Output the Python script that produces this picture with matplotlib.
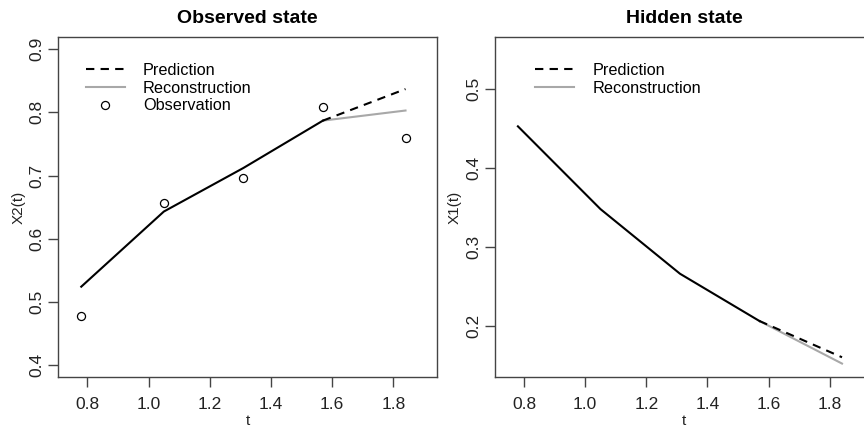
import matplotlib
matplotlib.use("Agg")
import matplotlib.pyplot as plt

plt.rcParams['font.family'] = ['Liberation Sans', 'DejaVu Sans']

t = [0.78, 1.05, 1.31, 1.57, 1.84]

# observed component X2
x2_obs = [0.478, 0.657, 0.696, 0.808, 0.760]
x2_fit = [0.524, 0.643, 0.712, 0.787]
x2_pred = 0.837
x2_rec = 0.803

# hidden component X1
x1_fit = [0.453, 0.348, 0.266, 0.206]
x1_pred = 0.160
x1_rec = 0.152

xticks = [0.8, 1.0, 1.2, 1.4, 1.6, 1.8]
xlabels = ["0.8", "1.0", "1.2", "1.4", "1.6", "1.8"]

BOX = '#444444'
GRAY = '#a8a8a8'


def style_axes(ax, yticks, ylabel, title):
	for s in ax.spines.values():
		s.set_color(BOX)
		s.set_linewidth(1.0)
	ax.set_xticks(xticks)
	ax.set_xticklabels(xlabels)
	ax.set_yticks(yticks)
	ax.set_yticklabels(["%.1f" % v for v in yticks])
	ax.tick_params(axis='both', length=7, width=1.0, color=BOX, labelsize=12.5, labelcolor='#222222')
	ax.tick_params(axis='x', pad=7)
	ax.tick_params(axis='y', pad=3)
	for lab in ax.get_yticklabels():
		lab.set_rotation(90)
		lab.set_va('center')
	ax.set_xlabel('t', fontsize=11, color='#222222')
	ax.xaxis.set_label_coords(0.5, -0.128)
	ax.xaxis.label.set_va('center')
	ax.set_ylabel(ylabel, fontsize=11, color='#222222')
	ax.yaxis.set_label_coords(-0.106, 0.5)
	ax.yaxis.label.set_va('center')
	ax.set_title(title, fontsize=14, fontweight='bold', y=1.056, va='center', pad=0)


def draw_series(ax, fit, pred, rec):
	ax.plot(t[3:], [fit[-1], rec], color=GRAY, lw=1.5, label='Reconstruction', zorder=2)
	ax.plot(t[:4], fit, color='black', lw=1.5, zorder=3)
	ax.plot(t[3:], [fit[-1], pred], color='black', lw=1.5, dashes=(4, 3), label='Prediction', zorder=3)


def add_legend(ax, names, x0):
	h, l = ax.get_legend_handles_labels()
	order = [l.index(n) for n in names]
	ax.legend([h[i] for i in order], [l[i] for i in order], frameon=False, loc='upper left',
		bbox_to_anchor=(x0, 0.925), borderaxespad=0, borderpad=0, fontsize=11.7,
		handlelength=2.4, handletextpad=1.1, labelspacing=0.17)


fig = plt.figure(figsize=(8.64, 4.28), dpi=100)
ax1 = fig.add_axes([0.0675, 0.1185, 0.4383, 0.7944])
ax2 = fig.add_axes([0.5729, 0.1185, 0.4381, 0.7944])

# left: observed state
draw_series(ax1, x2_fit, x2_pred, x2_rec)
ax1.plot(t, x2_obs, linestyle='none', marker='o', markersize=5.8, markerfacecolor='none',
	markeredgecolor='black', markeredgewidth=0.9, label='Observation', zorder=4)
ax1.set_xlim(0.705, 1.943)
ax1.set_ylim(0.3805, 0.919)
style_axes(ax1, [0.4, 0.5, 0.6, 0.7, 0.8, 0.9], 'X2(t)', 'Observed state')
add_legend(ax1, ['Prediction', 'Reconstruction', 'Observation'], 0.073)

# right: hidden state
draw_series(ax2, x1_fit, x1_pred, x1_rec)
ax2.set_xlim(0.705, 1.943)
ax2.set_ylim(0.1346, 0.566)
style_axes(ax2, [0.2, 0.3, 0.4, 0.5], 'X1(t)', 'Hidden state')
add_legend(ax2, ['Prediction', 'Reconstruction'], 0.1065)

fig.savefig('out.png', dpi=100)
